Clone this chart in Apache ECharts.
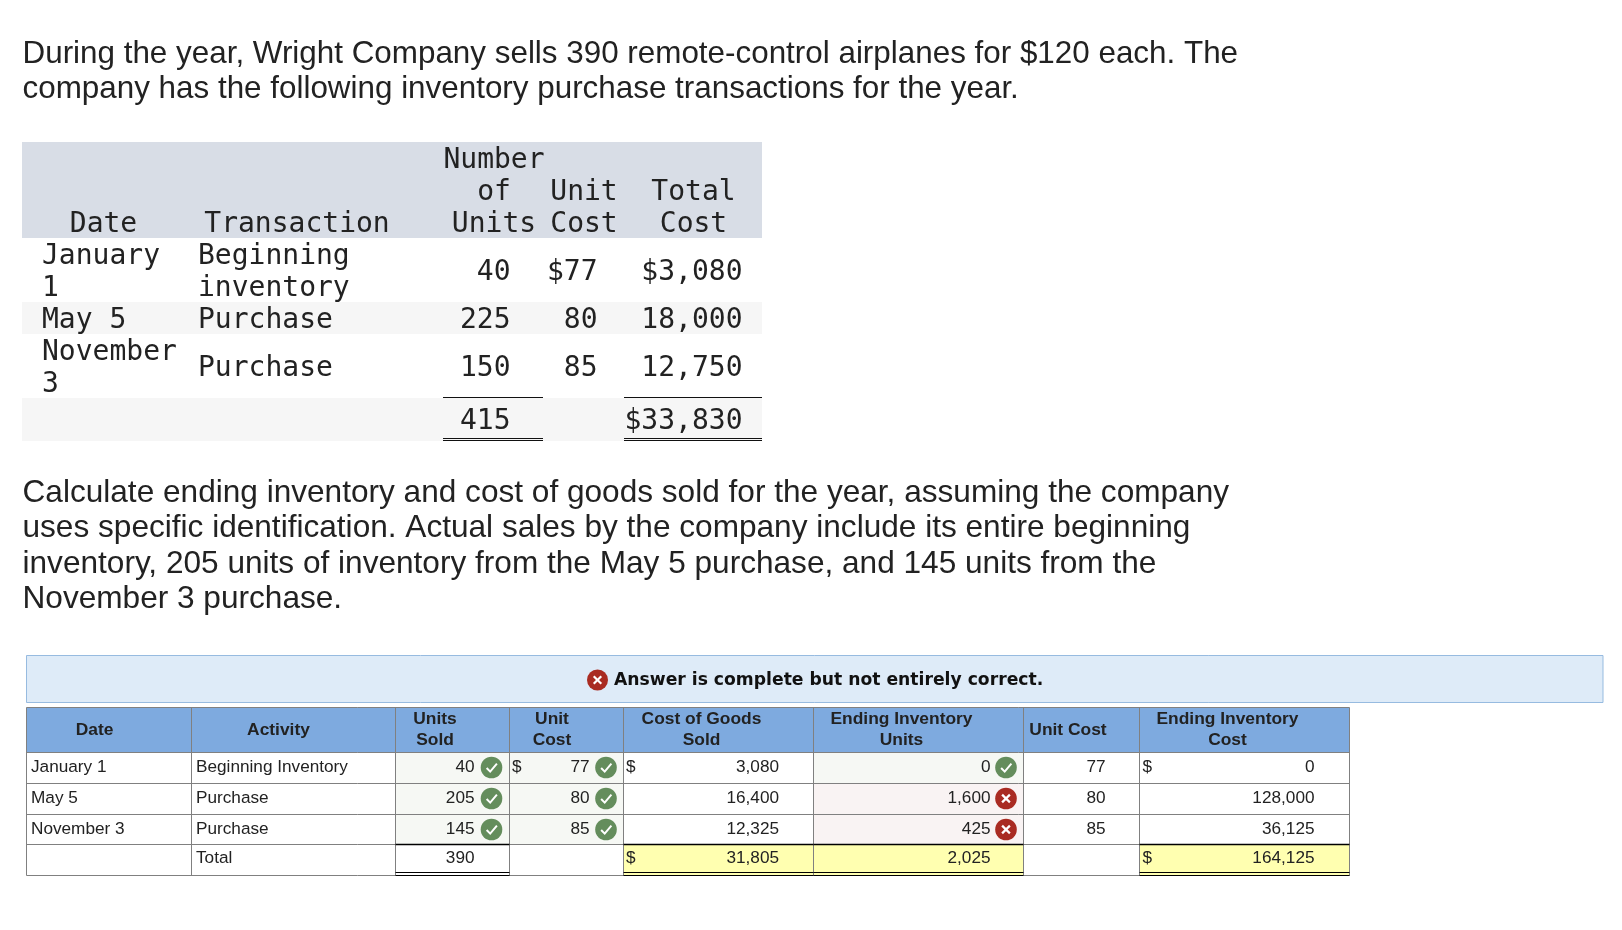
<!DOCTYPE html>
<html>
<head>
<meta charset="utf-8">
<title>Wright Company inventory</title>
<style>
  html, body { margin: 0; padding: 0; background: #fff; }
  #main { width: 1622px; height: 930px; }
</style>
<script src="https://cdn.jsdelivr.net/npm/echarts@6/dist/echarts.min.js"></script>
</head>
<body>
<div id="main"></div>
<script>
// question text
const introLines = [
  'During the year, Wright Company sells 390 remote-control airplanes for $120 each. The',
  'company has the following inventory purchase transactions for the year.'
];
const taskLines = [
  'Calculate ending inventory and cost of goods sold for the year, assuming the company',
  'uses specific identification. Actual sales by the company include its entire beginning',
  'inventory, 205 units of inventory from the May 5 purchase, and 145 units from the',
  'November 3 purchase.'
];
const bannerText = 'Answer is complete but not entirely correct.';

// purchases table
const purchaseDates = [['January', '1'], ['May 5'], ['November', '3']];
const purchaseKinds = [['Beginning', 'inventory'], ['Purchase'], ['Purchase']];
const purchaseUnits = ['40', '225', '150'];
const purchaseCosts = ['$77', '80', '85'];
const purchaseTotals = ['$3,080', '18,000', '12,750'];
const purchaseSumUnits = '415';
const purchaseSumCost = '$33,830';

// answer table
const answerHeaders = [['Date'], ['Activity'], ['Units', 'Sold'], ['Unit', 'Cost'], ['Cost of Goods', 'Sold'], ['Ending Inventory', 'Units'], ['Unit Cost'], ['Ending Inventory', 'Cost']];
const answerDates = ['January 1', 'May 5', 'November 3', ''];
const answerActivities = ['Beginning Inventory', 'Purchase', 'Purchase', 'Total'];
const unitsSold = ['40', '205', '145', '390'];
const unitCostsSold = ['77', '80', '85', ''];
const costOfGoodsSold = ['3,080', '16,400', '12,325', '31,805'];
const endingUnits = ['0', '1,600', '425', '2,025'];
const endingUnitCosts = ['77', '80', '85', ''];
const endingCosts = ['0', '128,000', '36,125', '164,125'];
const endingUnitsOk = [true, false, false];

const SANS = '"Liberation Sans", Arial, sans-serif';
const MONO = '"DejaVu Sans Mono", monospace';
const items = [];

function text(str, x, y, font, size, align, color, weight) {
  items.push({
    type: 'text', silent: true,
    style: {
      x: x, y: y, text: str, fill: color || '#222',
      font: (weight || 'normal') + ' ' + size + 'px ' + font,
      textAlign: align || 'left', textVerticalAlign: 'middle'
    }
  });
}
function box(x, y, w, h, fill, stroke) {
  items.push({
    type: 'rect', silent: true,
    shape: { x: x, y: y, width: w, height: h },
    style: { fill: fill, stroke: stroke || null, lineWidth: stroke ? 1 : 0 }
  });
}
function line(x1, y1, x2, y2, color, width) {
  items.push({
    type: 'line', silent: true,
    shape: { x1: x1, y1: y1, x2: x2, y2: y2 },
    style: { stroke: color, lineWidth: width || 1 }
  });
}
// green tick or red cross
function badge(cx, cy, ok, r) {
  items.push({
    type: 'circle', silent: true,
    shape: { cx: cx, cy: cy, r: r },
    style: { fill: ok ? '#648d5c' : '#a92b22' }
  });
  const s = r / 10;
  if (ok) {
    items.push({
      type: 'polyline', silent: true,
      shape: { points: [[cx - 4.5 * s, cy + 0.5 * s], [cx - 1.2 * s, cy + 3.8 * s], [cx + 5 * s, cy - 3.5 * s]] },
      style: { stroke: '#fff', lineWidth: 2, fill: null }
    });
  } else {
    line(cx - 3.6 * s, cy - 3.6 * s, cx + 3.6 * s, cy + 3.6 * s, '#fff', 2.2);
    line(cx - 3.6 * s, cy + 3.6 * s, cx + 3.6 * s, cy - 3.6 * s, '#fff', 2.2);
  }
}

// paragraphs
introLines.forEach((s, i) => text(s, 22.5, 54.5 + i * 35, SANS, 31.4));
taskLines.forEach((s, i) => text(s, 22.5, 493.5 + i * 35.2, SANS, 31.6));

// purchases table
const M = 28;
box(22, 142, 740, 96, '#d8dde6');
box(22, 302, 740, 32, '#f6f6f6');
box(22, 398, 740, 43, '#f6f6f6');
[['Number', 161], ['of', 193], ['Units', 225]].forEach(r => text(r[0], 494, r[1], MONO, M, 'center'));
text('Date', 103.5, 225, MONO, M, 'center');
text('Transaction', 297, 225, MONO, M, 'center');
text('Unit', 584, 193, MONO, M, 'center');
text('Cost', 584, 225, MONO, M, 'center');
text('Total', 693.5, 193, MONO, M, 'center');
text('Cost', 693.5, 225, MONO, M, 'center');
const purchaseY = [273, 321, 369];
purchaseDates.forEach((d, i) => {
  d.forEach((s, k) => text(s, 42, purchaseY[i] + (k - (d.length - 1) / 2) * 32, MONO, M));
  purchaseKinds[i].forEach((s, k) => text(s, 198, purchaseY[i] + (k - (purchaseKinds[i].length - 1) / 2) * 32, MONO, M));
  text(purchaseUnits[i], 510.5, purchaseY[i], MONO, M, 'right');
  text(purchaseCosts[i], 597.5, purchaseY[i], MONO, M, 'right');
  text(purchaseTotals[i], 742.5, purchaseY[i], MONO, M, 'right');
});
text(purchaseSumUnits, 510.5, 422, MONO, M, 'right');
text(purchaseSumCost, 742.5, 422, MONO, M, 'right');
[[443, 543], [624, 762]].forEach(r => {
  line(r[0], 397.5, r[1], 397.5, '#111', 1);
  line(r[0], 438.5, r[1], 438.5, '#111', 1);
  line(r[0], 440.5, r[1], 440.5, '#111', 1);
});

// banner
box(26.5, 655.5, 1576.5, 47, '#deebf8', '#97bbe0');
badge(597.5, 680, false, 10.5);
text(bannerText, 614, 680.5, '"DejaVu Sans", sans-serif', 17.2, 'left', '#111', 'bold');

// answer table
const colX = [26.5, 191.5, 395.5, 509.5, 623.5, 813.5, 1023.5, 1139.5, 1349.5];
const rowY = [707.5, 752.5, 783.5, 814.5, 844.5, 875.5];
const T = 17.2;
const GRID = '#808080';
box(colX[0], rowY[0], colX[8] - colX[0], rowY[1] - rowY[0], '#7eaadf');
for (let i = 0; i < 3; i++) {
  box(colX[2], rowY[i + 1], colX[3] - colX[2], rowY[i + 2] - rowY[i + 1], '#f6f8f4');
  box(colX[3], rowY[i + 1], colX[4] - colX[3], rowY[i + 2] - rowY[i + 1], '#f6f8f4');
  box(colX[5], rowY[i + 1], colX[6] - colX[5], rowY[i + 2] - rowY[i + 1], endingUnitsOk[i] ? '#f6f8f4' : '#f9f3f3');
}
[4, 5, 7].forEach(c => box(colX[c], rowY[4], colX[c + 1] - colX[c], rowY[5] - rowY[4], '#ffffb0'));
rowY.forEach(y => line(colX[0], y, colX[8], y, GRID));
colX.forEach(x => line(x, rowY[0], x, rowY[5], GRID));

const headerX = [94.5, 278.5, 435, 552, 701.5, 901.5, 1068, 1227.5];
answerHeaders.forEach((h, i) => {
  h.forEach((s, k) => text(s, headerX[i], 730 + (k - (h.length - 1) / 2) * 20.8, SANS, 17.4, 'center', '#222', 'bold'));
});

const cellY = [767.5, 798.5, 829.5, 858.5];
answerDates.forEach((s, i) => text(s, 31, cellY[i], SANS, T));
answerActivities.forEach((s, i) => text(s, 196, cellY[i], SANS, T));
unitsSold.forEach((s, i) => text(s, 474.5, cellY[i], SANS, T, 'right'));
unitCostsSold.forEach((s, i) => text(s, 589.5, cellY[i], SANS, T, 'right'));
costOfGoodsSold.forEach((s, i) => text(s, 779, cellY[i], SANS, T, 'right'));
endingUnits.forEach((s, i) => text(s, 990.5, cellY[i], SANS, T, 'right'));
endingUnitCosts.forEach((s, i) => text(s, 1105.5, cellY[i], SANS, T, 'right'));
endingCosts.forEach((s, i) => text(s, 1314.5, cellY[i], SANS, T, 'right'));
text('$', 512, cellY[0], SANS, T);
[[626, 0], [1142.5, 0], [626, 3], [1142.5, 3]].forEach(p => text('$', p[0], cellY[p[1]], SANS, T));

for (let i = 0; i < 3; i++) {
  badge(491.5, cellY[i], true, 10.8);
  badge(606, cellY[i], true, 10.8);
  badge(1006, cellY[i], endingUnitsOk[i], 10.8);
}

// total row rules
[[2, 3], [4, 5], [5, 6], [7, 8]].forEach(r => {
  const x1 = colX[r[0]], x2 = colX[r[1]];
  line(x1, rowY[4], x2, rowY[4], '#000', 1.5);
  line(x1, rowY[5] - 3, x2, rowY[5] - 3, '#000', 1);
  line(x1, rowY[5], x2, rowY[5], '#000', 1);
});

const chart = echarts.init(document.getElementById('main'), null, { renderer: 'canvas' });
chart.setOption({
  backgroundColor: '#fff',
  animation: false,
  graphic: { elements: items }
});
</script>
</body>
</html>
